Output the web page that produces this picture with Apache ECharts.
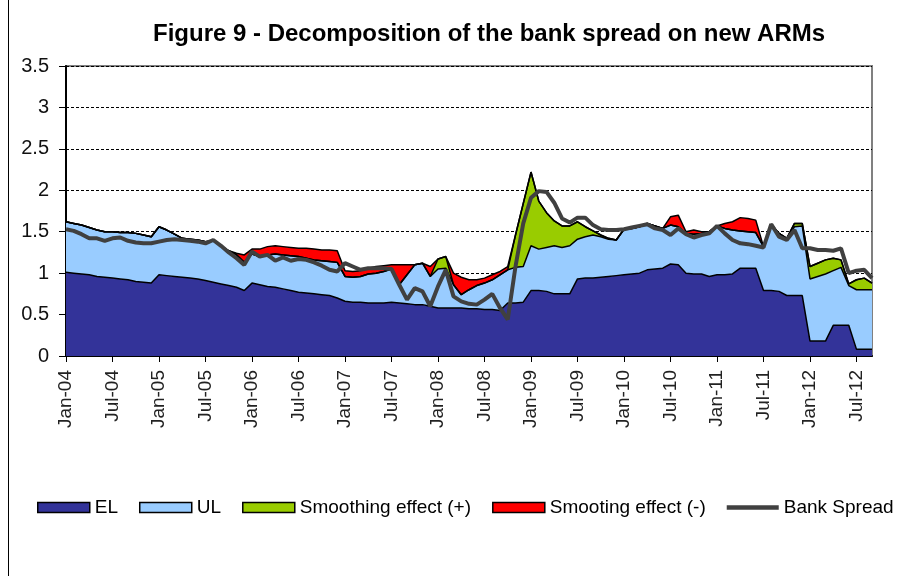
<!DOCTYPE html>
<html>
<head>
<meta charset="utf-8">
<script src="https://cdn.jsdelivr.net/npm/echarts@6/dist/echarts.min.js"></script>
<style>
html,body{margin:0;padding:0;background:#fff;}
#chart{width:903px;height:576px;}
</style>
</head>
<body>
<div id="chart"></div>
<script>
// Monthly categories Jan-04 .. Sep-12
const monthNames = ['Jan','Feb','Mar','Apr','May','Jun','Jul','Aug','Sep','Oct','Nov','Dec'];
const years = ['04','05','06','07','08','09','10','11','12'];
const categories = [];
years.forEach(function (y) {
  monthNames.forEach(function (m) {
    if (!(y === '12' && monthNames.indexOf(m) > 8)) categories.push(m + '-' + y);
  });
});

// EL (expected loss)
const EL = [
  1.01,1.00,0.99,0.98,0.96,0.95,0.94,0.93,0.92,0.90,0.89,0.88,
  0.98,0.97,0.96,0.95,0.94,0.93,0.91,0.89,0.87,0.85,0.83,0.79,
  0.88,0.86,0.84,0.83,0.81,0.79,0.77,0.76,0.75,0.74,0.73,0.70,
  0.66,0.65,0.65,0.64,0.64,0.64,0.65,0.64,0.63,0.62,0.62,0.60,
  0.58,0.58,0.58,0.58,0.57,0.57,0.56,0.56,0.55,0.64,0.64,0.65,
  0.79,0.79,0.78,0.75,0.75,0.75,0.93,0.94,0.94,0.95,0.96,0.97,
  0.98,0.99,1.00,1.04,1.05,1.06,1.11,1.10,1.00,0.99,0.99,0.96,
  0.98,0.98,0.99,1.06,1.06,1.06,0.79,0.79,0.78,0.73,0.73,0.73,
  0.18,0.18,0.18,0.37,0.37,0.37,0.08,0.08,0.08
];

// UL (unexpected loss)
const UL = [
  0.61,0.60,0.59,0.57,0.56,0.55,0.56,0.56,0.57,0.58,0.57,0.56,
  0.58,0.55,0.51,0.47,0.47,0.47,0.47,0.50,0.46,0.42,0.39,0.34,
  0.35,0.34,0.38,0.40,0.41,0.42,0.43,0.42,0.41,0.41,0.41,0.43,
  0.30,0.30,0.31,0.35,0.36,0.38,0.40,0.22,0.35,0.48,0.50,0.36,
  0.47,0.48,0.28,0.16,0.23,0.28,0.32,0.36,0.43,0.40,0.43,0.43,
  0.54,0.50,0.53,0.58,0.56,0.58,0.48,0.50,0.52,0.49,0.45,0.43,
  0.55,0.55,0.56,0.56,0.52,0.48,0.47,0.46,0.48,0.48,0.49,0.54,
  0.59,0.56,0.53,0.45,0.44,0.43,0.53,0.80,0.70,0.69,0.83,0.84,
  0.75,0.78,0.81,0.66,0.70,0.48,0.72,0.72,0.72
];

// Smoothing effect (+)
const smoothPlus = [
  0,0,0,0,0,0,0,0,0,0,0,0,
  0,0,0,0,0,0,0,0,0,0,0,0,
  0,0,0,0,0,0,0,0,0,0,0,0,
  0,0,0,0,0,0,0,0,0,0,0,0,
  0.12,0.14,0,0,0,0,0,0,0,0,0.39,0.76,
  0.89,0.58,0.42,0.30,0.26,0.24,0.21,0.12,0.05,0.02,0.01,0,
  0,0,0,0,0,0,0,0,0,0,0,0,
  0,0,0,0,0,0,0,0,0,0,0.04,0.03,
  0.15,0.16,0.17,0.15,0.09,0.02,0.12,0.14,0.08
];

// Smooting effect (-)
const smoothMinus = [
  0,0,0,0,0,0,0,0,0,0,0,0,
  0,0,0,0,0,0,0,0,0,0,0.02,0.09,
  0.06,0.09,0.10,0.10,0.10,0.10,0.10,0.12,0.13,0.13,0.14,0.14,
  0.07,0.07,0.07,0.07,0.08,0.07,0.05,0.24,0.12,0,0,0.12,
  0,0,0.14,0.21,0.12,0.07,0.06,0.06,0.04,0.04,0,0,
  0,0,0,0,0,0,0,0,0,0,0,0,
  0,0,0,0,0,0,0.10,0.14,0.02,0.05,0.02,0,
  0,0.06,0.10,0.16,0.16,0.15,0,0,0,0,0,0,
  0,0,0,0,0,0,0,0,0
];

// Bank spread
const bankSpread = [
  1.53,1.51,1.47,1.42,1.42,1.39,1.42,1.43,1.39,1.37,1.36,1.36,
  1.38,1.40,1.41,1.40,1.39,1.38,1.36,1.40,1.33,1.25,1.18,1.10,
  1.26,1.20,1.22,1.15,1.19,1.15,1.17,1.16,1.13,1.09,1.04,1.02,
  1.12,1.08,1.04,1.06,1.06,1.06,1.05,0.86,0.68,0.82,0.78,0.60,
  0.84,1.04,0.72,0.66,0.63,0.62,0.68,0.75,0.58,0.44,1.08,1.60,
  1.91,1.99,1.98,1.85,1.66,1.61,1.67,1.67,1.58,1.53,1.52,1.52,
  1.53,1.55,1.57,1.59,1.54,1.52,1.46,1.54,1.47,1.43,1.46,1.48,
  1.57,1.48,1.40,1.36,1.35,1.33,1.31,1.59,1.44,1.40,1.52,1.30,
  1.30,1.28,1.28,1.27,1.30,1.00,1.03,1.04,0.94
];

const FONT = 'Liberation Sans, Arial, sans-serif';

function areaSeries(name, data, color) {
  return {
    name: name, type: 'line', stack: 'total', data: data,
    symbol: 'none', showSymbol: false, smooth: false,
    lineStyle: { color: '#000', width: 1.5 },
    itemStyle: { color: color },
    areaStyle: { color: color, opacity: 1 },
    emphasis: { disabled: true },
    z: 2
  };
}

const chart = echarts.init(document.getElementById('chart'), null, { renderer: 'canvas' });
chart.setOption({
  animation: false,
  backgroundColor: '#fff',
  title: {
    text: 'Figure 9 - Decomposition of the bank spread on new ARMs',
    left: 148, top: 17,
    textStyle: { fontFamily: FONT, fontSize: 24, fontWeight: 'bold', color: '#000' }
  },
  graphic: [{
    type: 'line', shape: { x1: 8.5, y1: 0, x2: 8.5, y2: 576 },
    style: { stroke: '#000', lineWidth: 1 }, silent: true
  }],
  legend: {
    left: 32, top: 493,
    itemWidth: 52, itemHeight: 10, itemGap: 21,
    textStyle: { fontFamily: FONT, fontSize: 19, color: '#000' },
    data: [
      { name: 'EL', icon: 'rect', itemStyle: { color: '#333399', borderColor: '#000', borderWidth: 1.5 } },
      { name: 'UL', icon: 'rect', itemStyle: { color: '#99CCFF', borderColor: '#000', borderWidth: 1.5 } },
      { name: 'Smoothing effect (+)', icon: 'rect', itemStyle: { color: '#99CC00', borderColor: '#000', borderWidth: 1.5 } },
      { name: 'Smooting effect (-)', icon: 'rect', itemStyle: { color: '#FF0000', borderColor: '#000', borderWidth: 1.5 } },
      { name: 'Bank Spread', icon: 'path://M0,0 L46,0 L46,4 L0,4 Z', itemStyle: { color: '#404040', borderWidth: 0 } }
    ]
  },
  grid: {
    left: 66, right: 31, top: 66, bottom: 220,
    show: true, borderColor: '#808080', borderWidth: 2, backgroundColor: 'transparent'
  },
  xAxis: {
    type: 'category', data: categories, boundaryGap: false,
    axisLine: { lineStyle: { color: '#000', width: 2 } },
    axisTick: { interval: 5, length: 6, lineStyle: { color: '#000', width: 1 } },
    axisLabel: { interval: 5, rotate: 90, margin: 14, fontFamily: FONT, fontSize: 19, color: '#222' },
    splitLine: { show: false }
  },
  yAxis: {
    type: 'value', min: 0, max: 3.5, interval: 0.5,
    axisLine: { show: true, lineStyle: { color: '#000', width: 2 } },
    axisTick: { show: true, length: 7, lineStyle: { color: '#000', width: 1 } },
    axisLabel: { margin: 17, fontFamily: FONT, fontSize: 20, color: '#111' },
    splitLine: { show: true, lineStyle: { color: '#000', width: 1, type: [3, 2] } }
  },
  series: [
    areaSeries('EL', EL, '#333399'),
    areaSeries('UL', UL, '#99CCFF'),
    areaSeries('Smoothing effect (+)', smoothPlus, '#99CC00'),
    areaSeries('Smooting effect (-)', smoothMinus, '#FF0000'),
    {
      name: 'Bank Spread', type: 'line', data: bankSpread,
      symbol: 'none', showSymbol: false,
      lineStyle: { color: '#404040', width: 4 },
      itemStyle: { color: '#404040' },
      emphasis: { disabled: true },
      z: 5
    }
  ]
});
</script>
</body>
</html>
